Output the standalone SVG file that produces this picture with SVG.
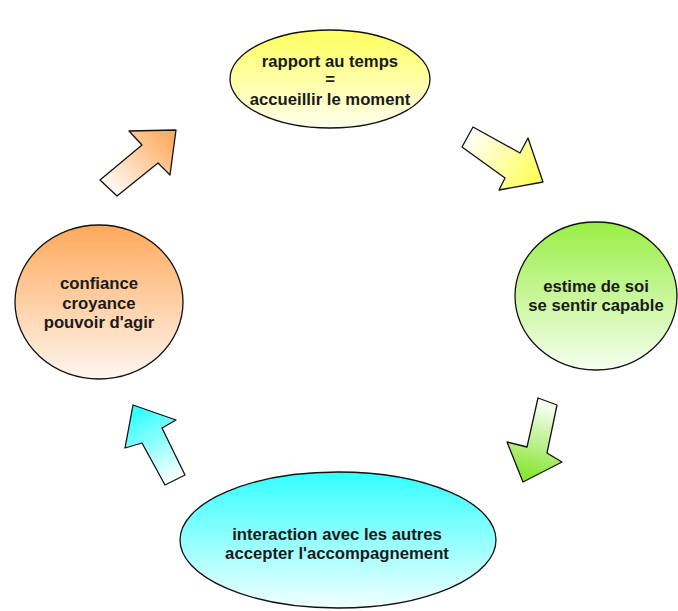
<svg xmlns="http://www.w3.org/2000/svg" width="678" height="611" viewBox="0 0 678 611">
<defs>
<linearGradient id="gY" x1="0" y1="0" x2="0" y2="1"><stop offset="0" stop-color="#ffff5e"/><stop offset="1" stop-color="#ffffec"/></linearGradient>
<linearGradient id="gG" x1="0" y1="0" x2="0" y2="1"><stop offset="0" stop-color="#99ee44"/><stop offset="1" stop-color="#f6fff0"/></linearGradient>
<linearGradient id="gO" x1="0" y1="0" x2="0" y2="1"><stop offset="0" stop-color="#ffa95a"/><stop offset="1" stop-color="#fff6f0"/></linearGradient>
<linearGradient id="gC" x1="0" y1="0" x2="0" y2="1"><stop offset="0" stop-color="#33ffff"/><stop offset="1" stop-color="#f2ffff"/></linearGradient>
<linearGradient id="aO" gradientUnits="userSpaceOnUse" x1="105" y1="192" x2="172" y2="133"><stop offset="0" stop-color="#ffffff"/><stop offset="1" stop-color="#ffa95a"/></linearGradient>
<linearGradient id="aY" gradientUnits="userSpaceOnUse" x1="466" y1="136" x2="535" y2="178"><stop offset="0" stop-color="#ffffff"/><stop offset="1" stop-color="#ffff5e"/></linearGradient>
<linearGradient id="aG" gradientUnits="userSpaceOnUse" x1="545" y1="400" x2="528" y2="476"><stop offset="0" stop-color="#ffffff"/><stop offset="1" stop-color="#88e633"/></linearGradient>
<linearGradient id="aC" gradientUnits="userSpaceOnUse" x1="176" y1="480" x2="140" y2="410"><stop offset="0" stop-color="#ffffff"/><stop offset="1" stop-color="#33ffff"/></linearGradient>
</defs>
<style>
.n{stroke:#111;stroke-width:1.3}
.a{stroke:#111;stroke-width:1.3;stroke-linejoin:round}
.t{font-family:"Liberation Sans",Arial,sans-serif;font-weight:bold;font-size:16.7px;fill:#1a1a1a;text-anchor:middle}
</style>
<rect width="678" height="611" fill="#ffffff"/>
<g id="connectors">
<polygon class="a" fill="url(#aO)" points="100,180 142,145 129,131 176,130 170,175 158,163 117,196"/>
<polygon class="a" fill="url(#aY)" points="473,127 520,153 528,138 543,182 499,190 505,178 462,147"/>
<polygon class="a" fill="url(#aG)" points="538,398 557,405 547,453 562,462 523,482 507,442 527,447"/>
<polygon class="a" fill="url(#aC)" points="185,475 165,485 142,443 125,448 133,405 176,420 162,428"/>
</g>
<g id="node-temps">
<ellipse class="n" cx="330" cy="79" rx="100" ry="49" fill="url(#gY)"/>
<text class="t" x="330" y="67">rapport au temps</text>
<text class="t" x="330" y="85">=</text>
<text class="t" x="330" y="105">accueillir le moment</text>
</g>
<g id="node-estime">
<ellipse class="n" cx="596" cy="296" rx="81" ry="74" fill="url(#gG)"/>
<text class="t" x="596" y="292">estime de soi</text>
<text class="t" x="596" y="311">se sentir capable</text>
</g>
<g id="node-interaction">
<ellipse class="n" cx="338" cy="540" rx="158" ry="68" fill="url(#gC)"/>
<text class="t" x="337" y="540">interaction avec les autres</text>
<text class="t" x="337" y="559">accepter l'accompagnement</text>
</g>
<g id="node-confiance">
<ellipse class="n" cx="99" cy="302" rx="84" ry="77" fill="url(#gO)"/>
<text class="t" x="99" y="289">confiance</text>
<text class="t" x="99" y="309">croyance</text>
<text class="t" x="99" y="328">pouvoir d'agir</text>
</g>
</svg>
